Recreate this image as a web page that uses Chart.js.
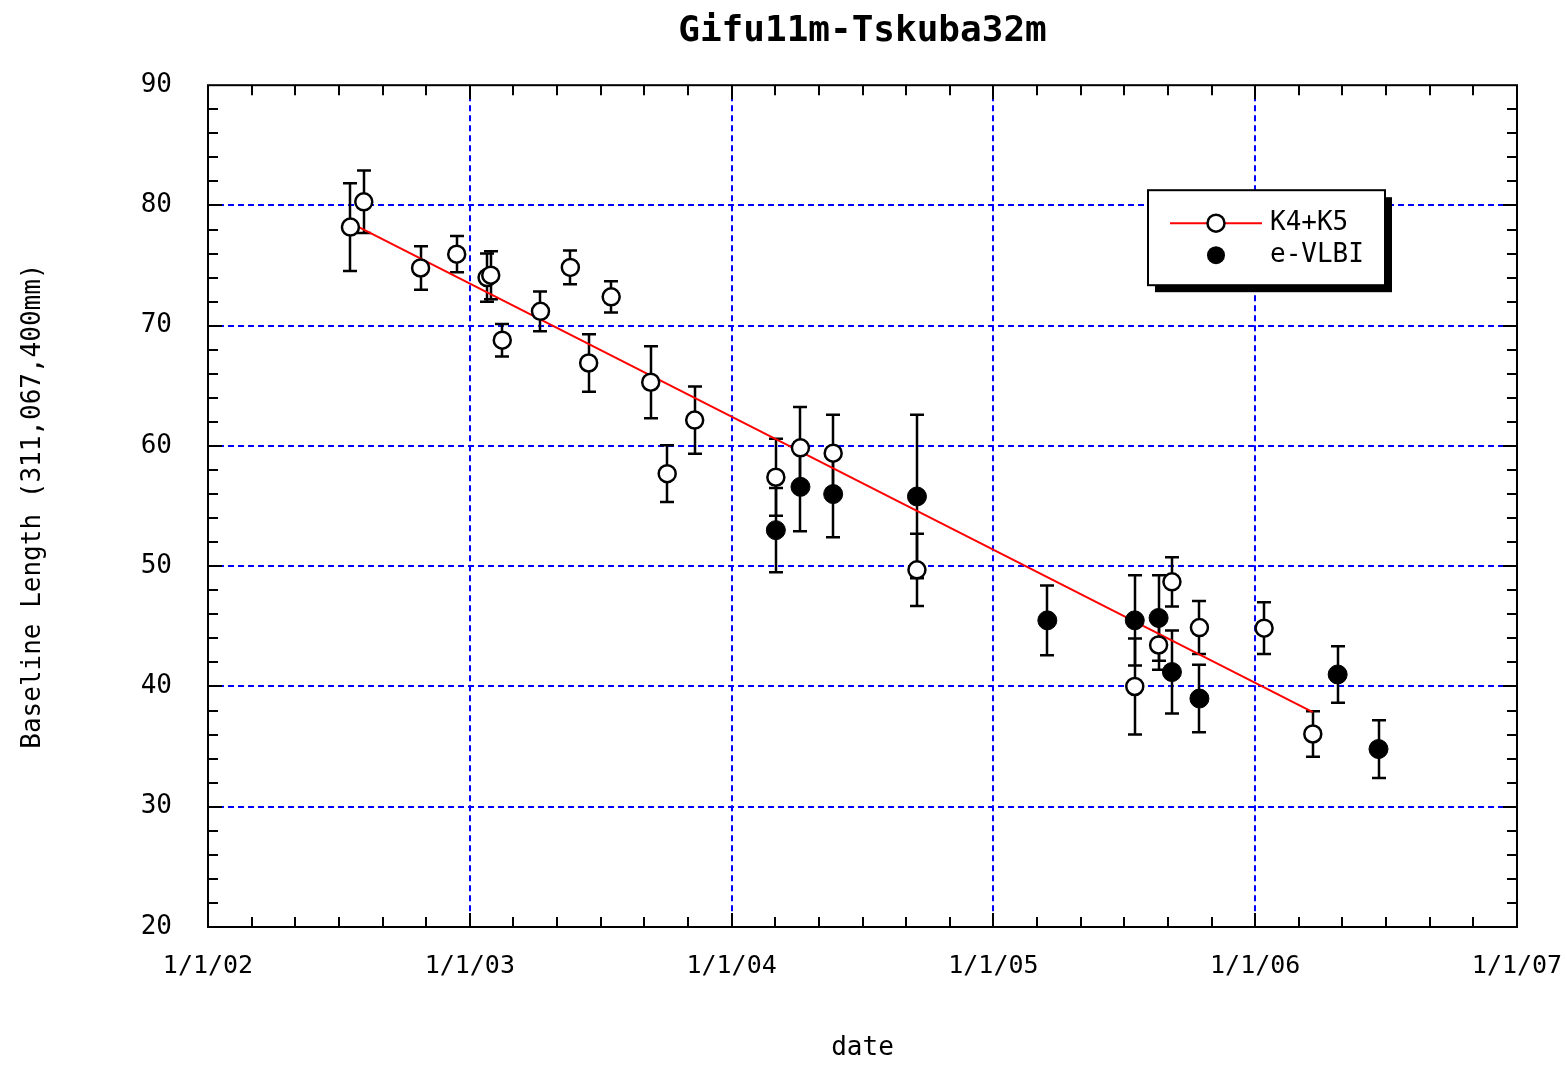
<!DOCTYPE html>
<html><head><meta charset="utf-8">
<script src="https://cdn.jsdelivr.net/npm/chart.js@4.4.1/dist/chart.umd.min.js"></script>
<style>html,body{margin:0;padding:0;background:#fff}canvas{display:block}</style>
</head><body>
<canvas id="c" width="1567" height="1066"></canvas>
<script>
// ---- data (dates as decimal years) ----
const k4Dates  = [2002.544, 2002.595, 2002.812, 2002.950, 2003.066, 2003.080, 2003.124, 2003.270, 2003.384, 2003.454, 2003.540, 2003.691, 2003.754, 2003.859, 2004.169, 2004.263, 2004.388, 2004.708, 2005.540, 2005.631, 2005.682, 2005.787, 2006.034, 2006.220];
const k4Values = [78.2, 80.3, 74.8, 75.95, 74.0, 74.2, 68.8, 71.2, 74.85, 66.9, 72.4, 65.3, 57.7, 62.15, 57.4, 59.85, 59.4, 49.7, 40.0, 43.45, 48.7, 44.9, 44.85, 36.05];
const k4Errors = [3.65, 2.6, 1.8, 1.5, 2.0, 2.0, 1.35, 1.65, 1.4, 2.4, 1.3, 3.0, 2.35, 2.8, 3.2, 3.4, 3.2, 3.0, 4.0, 2.05, 2.05, 2.2, 2.15, 1.9];

const vlbiDates  = [2004.169, 2004.263, 2004.388, 2004.708, 2005.206, 2005.540, 2005.631, 2005.682, 2005.787, 2006.315, 2006.471];
const vlbiValues = [53.0, 56.6, 56.0, 55.8, 45.5, 45.5, 45.7, 41.2, 39.0, 41.0, 34.8];
const vlbiErrors = [3.5, 3.7, 3.6, 6.8, 2.9, 3.75, 3.55, 3.45, 2.8, 2.35, 2.4];

const fitDates  = [2002.544, 2006.220];
const fitValues = [78.55, 37.87];

const xTickYears  = [2002, 2003, 2004, 2005, 2006, 2007];
const xTickLabels = ['1/1/02', '1/1/03', '1/1/04', '1/1/05', '1/1/06', '1/1/07'];
const yMin = 20, yMax = 90, yStep = 10;

const FONT = "'DejaVu Sans Mono', 'Liberation Mono', monospace";
Chart.defaults.font.family = FONT;
Chart.defaults.color = '#000';

const toPts = (xs, ys) => xs.map((x, i) => ({x: x, y: ys[i]}));

const errorBars = {
  id: 'errorBars',
  beforeDatasetsDraw(chart) {
    const {ctx, scales: {x, y}} = chart;
    ctx.save();
    ctx.strokeStyle = '#000';
    ctx.lineWidth = 2.5;
    chart.data.datasets.forEach(ds => {
      if (!ds.errors) return;
      ds.data.forEach((p, i) => {
        const e = ds.errors[i];
        const px = Math.round(x.getPixelForValue(p.x));
        const t = y.getPixelForValue(p.y + e), b = y.getPixelForValue(p.y - e);
        ctx.beginPath();
        ctx.moveTo(px, t); ctx.lineTo(px, b);
        ctx.moveTo(px - 7, t); ctx.lineTo(px + 7, t);
        ctx.moveTo(px - 7, b); ctx.lineTo(px + 7, b);
        ctx.stroke();
      });
    });
    ctx.restore();
  }
};

const frameTicks = {
  id: 'frameTicks',
  afterDatasetsDraw(chart) {
    const {ctx, chartArea: a, scales: {x, y}} = chart;
    ctx.save();
    ctx.strokeStyle = '#000';
    ctx.lineWidth = 2;
    ctx.strokeRect(a.left, a.top, a.right - a.left, a.bottom - a.top);
    ctx.beginPath();
    const x0 = xTickYears[0], nX = (xTickYears.length - 1) * 6;
    for (let i = 1; i < nX; i++) {
      const px = Math.round(x.getPixelForValue(x0 + i / 6));
      const L = (i % 6 === 0) ? 14 : 10;
      ctx.moveTo(px, a.bottom); ctx.lineTo(px, a.bottom - L);
      ctx.moveTo(px, a.top); ctx.lineTo(px, a.top + L);
    }
    for (let v = yMin + 2; v < yMax; v += 2) {
      const py = Math.round(y.getPixelForValue(v));
      const L = (v % 10 === 0) ? 14 : 10;
      ctx.moveTo(a.left, py); ctx.lineTo(a.left + L, py);
      ctx.moveTo(a.right, py); ctx.lineTo(a.right - L, py);
    }
    ctx.stroke();
    ctx.restore();
  }
};

const customLegend = {
  id: 'customLegend',
  afterDraw(chart) {
    const {ctx, chartArea: a} = chart;
    const bx = a.left + 940, by = a.top + 105, bw = 237, bh = 95;
    ctx.save();
    ctx.fillStyle = '#000';
    ctx.fillRect(bx + 7, by + 7, bw, bh);
    ctx.fillStyle = '#fff';
    ctx.fillRect(bx, by, bw, bh);
    ctx.strokeStyle = '#000'; ctx.lineWidth = 2;
    ctx.strokeRect(bx, by, bw, bh);
    const r1 = by + 33, r2 = by + 65;
    ctx.strokeStyle = '#ff0000'; ctx.lineWidth = 2;
    ctx.beginPath(); ctx.moveTo(bx + 22, r1); ctx.lineTo(bx + 114, r1); ctx.stroke();
    ctx.beginPath(); ctx.arc(bx + 68, r1, 8.5, 0, Math.PI * 2);
    ctx.fillStyle = '#fff'; ctx.fill();
    ctx.strokeStyle = '#000'; ctx.lineWidth = 2.5; ctx.stroke();
    ctx.beginPath(); ctx.arc(bx + 68, r2, 9, 0, Math.PI * 2);
    ctx.fillStyle = '#000'; ctx.fill();
    ctx.fillStyle = '#000';
    ctx.font = "26px " + FONT;
    ctx.textBaseline = 'middle'; ctx.textAlign = 'left';
    ctx.fillText(chart.data.datasets[1].label, bx + 122, r1);
    ctx.fillText(chart.data.datasets[2].label, bx + 122, r2);
    ctx.restore();
  }
};

const gridColor = (ctx, lo, hi) => {
  const v = ctx.tick ? ctx.tick.value : null;
  return (v !== null && v > lo && v < hi) ? '#0000ff' : 'rgba(0,0,0,0)';
};

new Chart(document.getElementById('c'), {
  type: 'scatter',
  data: {
    datasets: [
      {
        type: 'line', label: 'fit', data: toPts(fitDates, fitValues),
        borderColor: '#ff0000', borderWidth: 2, pointRadius: 0, showLine: true, fill: false, order: 3
      },
      {
        label: 'K4+K5', data: toPts(k4Dates, k4Values), errors: k4Errors,
        pointRadius: 8.5, pointHoverRadius: 8.5, pointBackgroundColor: '#fff', pointBorderColor: '#000',
        pointBorderWidth: 2.5, order: 2
      },
      {
        label: 'e-VLBI', data: toPts(vlbiDates, vlbiValues), errors: vlbiErrors,
        pointRadius: 9.5, pointHoverRadius: 9.5, pointBackgroundColor: '#000', pointBorderColor: '#000',
        pointBorderWidth: 1, order: 1
      }
    ]
  },
  options: {
    responsive: false,
    animation: false,
    events: [],
    layout: {padding: {left: 0, right: 50, top: 0, bottom: 0}},
    plugins: {
      legend: {display: false},
      tooltip: {enabled: false},
      title: {
        display: true, text: 'Gifu11m-Tskuba32m', fullSize: false,
        font: {size: 36, weight: 'bold', family: FONT}, color: '#000',
        padding: {top: 10, bottom: 32}
      }
    },
    scales: {
      x: {
        type: 'linear', min: xTickYears[0], max: xTickYears[xTickYears.length - 1],
        afterFit: s => { s.height = 139; s.paddingLeft = 0; s.paddingRight = 0; },
        afterBuildTicks: s => { s.ticks = xTickYears.map(v => ({value: v})); },
        ticks: {
          autoSkip: false, maxRotation: 0, padding: 24,
          font: {size: 25},
          callback: v => xTickLabels[xTickYears.indexOf(Math.round(v))]
        },
        grid: {
          drawTicks: false, lineWidth: 2,
          color: c => gridColor(c, xTickYears[0], xTickYears[xTickYears.length - 1])
        },
        border: {display: false, dash: [6, 4]},
        title: {display: true, text: 'date', font: {size: 26}, padding: {top: 0, bottom: 2}}
      },
      y: {
        min: yMin, max: yMax,
        afterFit: s => { s.width = 208; s.paddingTop = 0; s.paddingBottom = 0; },
        ticks: {stepSize: yStep, padding: 36, font: {size: 26}},
        grid: {
          drawTicks: false, lineWidth: 2,
          color: c => gridColor(c, yMin, yMax)
        },
        border: {display: false, dash: [6, 4]},
        title: {display: true, text: 'Baseline Length (311,067,400mm)', font: {size: 26}, padding: {top: 18, bottom: 0}}
      }
    }
  },
  plugins: [errorBars, frameTicks, customLegend]
});
</script>
</body></html>
